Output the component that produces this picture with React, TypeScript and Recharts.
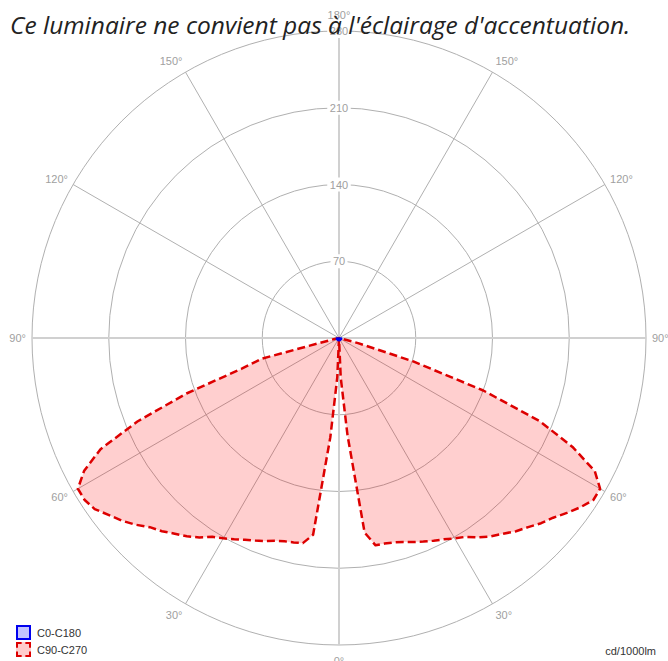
import { RadarChart, Radar, PolarGrid, PolarAngleAxis, PolarRadiusAxis } from "recharts";

// gamma angles (deg from nadir), 2.5° steps; nothing beyond 80°
const GAMMA = [
  0, 2.5, 5, 7.5, 10, 12.5, 15, 17.5, 20, 22.5, 25, 27.5, 30, 32.5, 35, 37.5, 40,
  42.5, 45, 47.5, 50, 52.5, 55, 57.5, 60, 62.5, 65, 67.5, 70, 72.5, 75, 77.5, 80,
];
// cd/1000lm, left half of the plot
const C270 = [
  0, 36, 91, 181, 190, 191, 192, 194, 197, 200, 203, 207, 211, 215, 222, 228, 233,
  239, 244, 252, 259, 265, 272, 275, 275, 262, 240, 199, 148, 93, 73, 5, 0,
];
// cd/1000lm, right half of the plot
const C90 = [
  0, 36, 89, 179, 192, 192, 193, 195, 198, 201, 204, 207, 211, 215, 222, 228, 233,
  239, 244, 250, 255, 262, 269, 275, 275, 263, 235, 198, 140, 71, 18, 0, 0,
];
// C0-C180 plane is almost nothing, just a dot in the middle
const C0 = [2, 2, 2, 2, 2, 2, 2, 2, 2, 2, 2, 2, 2, 2, 2, 2, 2, 2, 2, 2, 2, 2, 2, 2, 2, 2, 2, 2, 2, 2, 2, 2, 2];
const C180 = [2, 2, 2, 2, 2, 2, 2, 2, 2, 2, 2, 2, 2, 2, 2, 2, 2, 2, 2, 2, 2, 2, 2, 2, 2, 2, 2, 2, 2, 2, 2, 2, 2];

const RADIUS_TICKS = [70, 140, 210, 280];
const ANGLE_TICKS = [0, 30, 60, 90, 120, 150, 180, 210, 240, 270, 300, 330];

const TITLE = "Ce luminaire ne convient pas à l'éclairage d'accentuation.";
const UNIT = "cd/1000lm";

const SERIES = [
  { key: "c0", name: "C0-C180", stroke: "#0000ee", fill: "#4040ff", dash: undefined },
  { key: "c90", name: "C90-C270", stroke: "#dd0000", fill: "#ff0000", dash: "8 4" },
];

// left half: axis 0..80, right half: axis 280..357.5 (mirror of gamma)
const data = [
  ...GAMMA.map((g, i) => ({ angle: g, c90: C270[i], c0: C0[i] })),
  ...GAMMA.map((g, i) => ({ angle: 360 - g, c90: C90[i], c0: C180[i] }))
    .filter((d) => d.angle < 360)
    .reverse(),
];

const CX = 339;
const CY = 338;
const R = 307;
const labelFont = "'Liberation Sans', Arial, sans-serif";

const AngleTick = (props: any) => {
  const { x, y, payload, textAnchor } = props;
  const a = Number(payload.value);
  const c = Math.cos((a * Math.PI) / 180);
  const dy = c * 4 + Math.pow(c, 5) * 6; // push top/bottom labels further out
  const label = (a <= 180 ? a : 360 - a) + "°";
  return (
    <text x={x} y={y + dy} textAnchor={textAnchor} dominantBaseline="central" fill="#a0a0a0" fontSize={11} fontFamily={labelFont}>
      {label}
    </text>
  );
};

const RadiusTick = (props: any) => {
  const { x, y, payload } = props;
  const s = String(payload.value);
  const w = s.length * 6.5 + 4;
  return (
    <g>
      <rect x={x - w / 2} y={y - 7} width={w} height={14} fill="#fff" />
      <text x={x} y={y} textAnchor="middle" dominantBaseline="central" fill="#a0a0a0" fontSize={11} fontFamily={labelFont}>
        {s}
      </text>
    </g>
  );
};

export default function App() {
  return (
    <div style={{ position: "absolute", left: 0, top: 0, width: 668, height: 661, background: "#fff", overflow: "hidden" }}>
      <RadarChart
        width={668}
        height={661}
        data={data}
        cx={CX}
        cy={CY}
        outerRadius={R}
        startAngle={-90}
        endAngle={-450}
        margin={{ top: 0, right: 0, bottom: 0, left: 0 }}
      >
        <PolarGrid gridType="circle" stroke="#b0b0b0" />
        <PolarGrid gridType="circle" polarAngles={[0, 90, 180, 270]} polarRadius={[]} stroke="#d0d0d0" strokeWidth={2} />
        <PolarAngleAxis
          type="number"
          dataKey="angle"
          domain={[0, 360]}
          ticks={ANGLE_TICKS}
          tickSize={6}
          axisLine={false}
          tickLine={false}
          tick={<AngleTick />}
        />
        {SERIES.slice().reverse().map((s) => (
          <Radar
            key={s.key}
            name={s.name}
            dataKey={s.key}
            stroke={s.stroke}
            strokeWidth={2.5}
            strokeDasharray={s.dash}
            strokeLinejoin="round"
            fill={s.fill}
            fillOpacity={s.key === "c90" ? 0.19 : 0.5}
            dot={false}
            isAnimationActive={false}
          />
        ))}
        <PolarRadiusAxis angle={90} domain={[0, 280]} ticks={RADIUS_TICKS} axisLine={false} tickLine={false} tick={<RadiusTick />} />
        <PolarRadiusAxis radiusAxisId="b" angle={270} domain={[0, 280]} ticks={RADIUS_TICKS} axisLine={false} tickLine={false} tick={<RadiusTick />} />
      </RadarChart>

      <div style={{ position: "absolute", left: 10, top: 8, fontFamily: "'Open Sans', sans-serif", fontStyle: "italic", fontSize: 24.5, color: "#222", whiteSpace: "nowrap" }}>
        {TITLE}
      </div>

      <div style={{ position: "absolute", left: 16, top: 624, fontFamily: labelFont, fontSize: 11, color: "#333" }}>
        {SERIES.map((s) => (
          <div key={s.key} style={{ display: "flex", alignItems: "center", height: 17 }}>
            <span
              style={{
                display: "inline-block",
                width: 11,
                height: 11,
                border: `2px ${s.dash ? "dashed" : "solid"} ${s.stroke}`,
                background: s.key === "c90" ? "#ffcccc" : "#c4c4ff",
                marginRight: 6,
              }}
            />
            {s.name}
          </div>
        ))}
      </div>

      <div style={{ position: "absolute", right: 12, top: 645, fontFamily: labelFont, fontSize: 11, color: "#333" }}>{UNIT}</div>
    </div>
  );
}
